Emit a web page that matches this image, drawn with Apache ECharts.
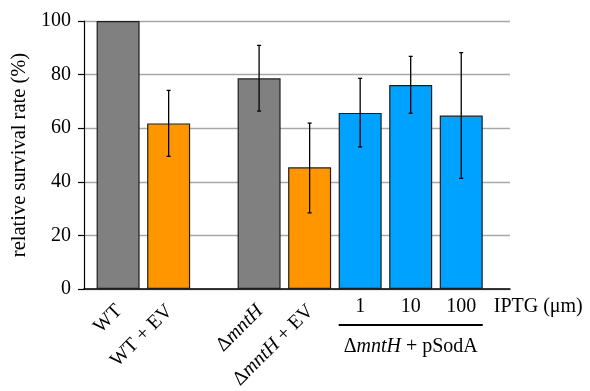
<!DOCTYPE html>
<html>
<head>
<meta charset="utf-8">
<script src="https://cdn.jsdelivr.net/npm/echarts@6/dist/echarts.min.js"></script>
<style>
  html, body { margin: 0; padding: 0; background: #fff; }
  #chart { width: 590px; height: 391px; }
</style>
</head>
<body>
<div id="chart"></div>
<script>
// data
const categories = ['WT', 'WT + EV', 'ΔmntH', 'ΔmntH + EV', '1', '10', '100'];
const strain = ['wt', 'ev', 'wt', 'ev', 'sod', 'sod', 'sod'];
const survival = [100, 61.8, 78.6, 45.4, 65.7, 76.1, 64.7];
const errHigh = [null, 74.1, 90.9, 61.9, 78.6, 86.8, 88.2];
const errLow = [null, 49.5, 66.4, 28.4, 53.0, 65.6, 41.3];
const groupLabel = 'ΔmntH + pSodA';
const iptgLabel = 'IPTG (μm)';
const yName = 'relative survival rate (%)';

const FONT = 'Liberation Serif';
const FS = 20;
const colors = { wt: '#808080', ev: '#ff9600', sod: '#00a2ff' };

// bar slot on the x scale; a narrower gap between the WT and mntH groups
const slot = i => 0.675 + i + (i >= 2 ? 0.79 : 0);

// ΔmntH written with the gene name in italics
const richName = s => s.indexOf('ΔmntH') === 0
  ? '{n|Δ}{i|mntH}' + (s.length > 5 ? '{n|' + s.slice(5) + '}' : '')
  : '{n|' + s + '}';
const rich = {
  n: { fontFamily: FONT, fontSize: FS, fill: '#000', color: '#000' },
  i: { fontFamily: FONT, fontSize: FS, fontStyle: 'italic', fill: '#000', color: '#000' }
};

const chart = echarts.init(document.getElementById('chart'));

const errData = [];
errHigh.forEach((h, i) => {
  if (h != null) errData.push([slot(i), errLow[i], h]);
});

chart.setOption({
  animation: false,
  textStyle: { fontFamily: FONT },
  grid: { left: 84, right: 80, top: 21, bottom: 102 },
  xAxis: {
    type: 'value',
    min: 0,
    max: 8.43,
    axisLine: { show: true, onZero: false, lineStyle: { color: '#000', width: 1.5 } },
    axisTick: { show: false },
    axisLabel: { show: false },
    splitLine: { show: false }
  },
  yAxis: {
    type: 'value',
    min: 0,
    max: 100,
    interval: 20,
    name: yName,
    nameLocation: 'middle',
    nameGap: 54,
    nameTextStyle: { fontFamily: FONT, fontSize: 20.5, color: '#000' },
    axisLine: { show: true, lineStyle: { color: '#000', width: 1.2 } },
    axisTick: { show: true, length: 6, lineStyle: { color: '#000', width: 1.2 } },
    axisLabel: { fontFamily: FONT, fontSize: FS, color: '#000', margin: 13 },
    splitLine: { lineStyle: { color: '#a8a8a8', width: 1.3 } }
  },
  series: [
    {
      type: 'bar',
      barWidth: 43,
      itemStyle: { borderColor: '#1e1e1e', borderWidth: 1.2 },
      data: survival.map((v, i) => ({
        value: [slot(i), v],
        itemStyle: { color: colors[strain[i]] }
      }))
    },
    {
      type: 'custom',
      data: errData,
      z: 5,
      renderItem: (params, api) => {
        const x = api.value(0);
        const top = api.coord([x, api.value(2)]);
        const bot = api.coord([x, api.value(1)]);
        const st = { stroke: '#000', lineWidth: 1.3 };
        return {
          type: 'group',
          children: [
            { type: 'line', shape: { x1: top[0], y1: top[1], x2: bot[0], y2: bot[1] }, style: st },
            { type: 'line', shape: { x1: top[0] - 2, y1: top[1], x2: top[0] + 2, y2: top[1] }, style: st },
            { type: 'line', shape: { x1: bot[0] - 2, y1: bot[1], x2: bot[0] + 2, y2: bot[1] }, style: st }
          ]
        };
      }
    }
  ]
});

// category labels placed from the axis scale
const at = (x, y) => chart.convertToPixel({ xAxisIndex: 0, yAxisIndex: 0 }, [x, y]);
const graphics = [];
categories.forEach((c, i) => {
  const p = at(slot(i), 0);
  if (strain[i] !== 'sod') {
    graphics.push({
      type: 'text',
      x: p[0] + 1,
      y: p[1] + 19,
      rotation: Math.PI / 4,
      style: { text: richName(c), rich, align: 'right', verticalAlign: 'middle' }
    });
  } else {
    graphics.push({
      type: 'text',
      x: p[0],
      y: p[1] + 18,
      style: { text: c, fontFamily: FONT, fontSize: FS, fill: '#000', align: 'center', verticalAlign: 'middle' }
    });
  }
});
const base = at(0, 0)[1];
const first = at(slot(4), 0)[0] - 21.5;
const last = at(slot(6), 0)[0] + 21.5;
graphics.push({
  type: 'text',
  x: last + 11,
  y: base + 18,
  style: { text: iptgLabel, fontFamily: FONT, fontSize: FS, fill: '#000', align: 'left', verticalAlign: 'middle' }
});
graphics.push({
  type: 'line',
  shape: { x1: first, y1: base + 36, x2: last, y2: base + 36 },
  style: { stroke: '#000', lineWidth: 2 }
});
graphics.push({
  type: 'text',
  x: at(slot(5), 0)[0],
  y: base + 58,
  style: { text: richName(groupLabel), rich, align: 'center', verticalAlign: 'middle' }
});
chart.setOption({ graphic: graphics });

window.addEventListener('resize', () => { chart.resize(); });
</script>
</body>
</html>
